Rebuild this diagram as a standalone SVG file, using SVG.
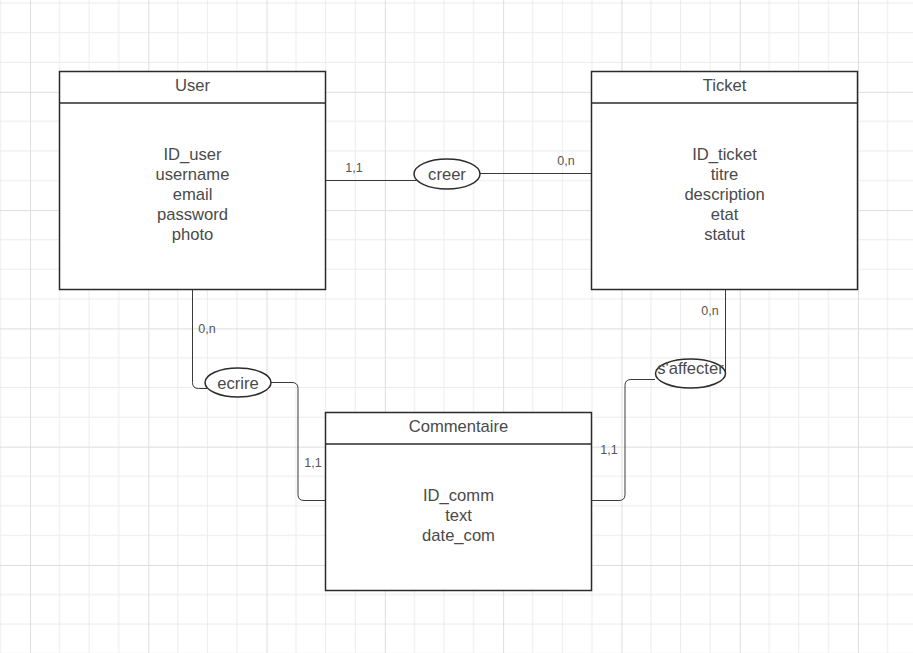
<svg xmlns="http://www.w3.org/2000/svg" width="913" height="653" viewBox="0 0 913 653">
<defs>
<pattern id="grid" patternUnits="userSpaceOnUse" x="30" y="91.84" width="118.28" height="118.28">
<path d="M29.57 0V118.28M59.14 0V118.28M88.71 0V118.28M0 29.57H118.28M0 59.14H118.28M0 88.71H118.28" stroke="#ececec" stroke-width="1" fill="none"/>
<path d="M0.5 0V118.28M0 0.5H118.28" stroke="#dedede" stroke-width="1" fill="none"/>
</pattern>
<style>
.box{fill:#fff;stroke:#2b2b2b;stroke-width:1.5}
.hdr{stroke:#2b2b2b;stroke-width:1.5;fill:none}
.t{font-family:"Liberation Sans",Arial,sans-serif;font-size:16.6px;fill:#4a4a4a;text-anchor:middle}
.lbl{font-family:"Liberation Sans",Arial,sans-serif;font-size:12.5px;fill:#555;text-anchor:middle}
.edge{fill:none;stroke:#3a3a3a;stroke-width:1}
.rel{fill:#fff;stroke:#2b2b2b;stroke-width:1.5}
</style>
</defs>
<rect width="913" height="653" fill="#fff"/>
<rect width="913" height="653" fill="url(#grid)"/>

<g id="connectors">
<path class="edge" d="M326 180.5H416.5"/>
<path class="edge" d="M480 173.5H591"/>
<path class="edge" d="M192.5 289V382.5Q192.5 388.5 198.5 388.5H207"/>
<path class="edge" d="M271 382.5H292Q298 382.5 298 388.5V494.5Q298 500.5 304 500.5H326"/>
<path class="edge" d="M725.5 289V373.5"/>
<path class="edge" d="M655 379.5H631Q625 379.5 625 385.5V494.5Q625 500.5 619 500.5H591.5"/>
<text class="lbl" x="354" y="172">1,1</text>
<text class="lbl" x="566" y="165">0,n</text>
<text class="lbl" x="207" y="333">0,n</text>
<text class="lbl" x="313" y="467">1,1</text>
<text class="lbl" x="710" y="315">0,n</text>
<text class="lbl" x="609" y="454">1,1</text>
</g>

<g id="user">
<rect class="box" x="59.5" y="71.5" width="266" height="218"/>
<path class="hdr" d="M59.5 103H325.5"/>
<text class="t" x="192.5" y="91">User</text>
<text class="t" x="192.5" y="160">ID_user</text>
<text class="t" x="192.5" y="180">username</text>
<text class="t" x="192.5" y="200">email</text>
<text class="t" x="192.5" y="220">password</text>
<text class="t" x="192.5" y="240">photo</text>
</g>

<g id="ticket">
<rect class="box" x="591.5" y="71.5" width="266" height="218"/>
<path class="hdr" d="M591.5 103H857.5"/>
<text class="t" x="724.5" y="91">Ticket</text>
<text class="t" x="724.5" y="160">ID_ticket</text>
<text class="t" x="724.5" y="180">titre</text>
<text class="t" x="724.5" y="200">description</text>
<text class="t" x="724.5" y="220">etat</text>
<text class="t" x="724.5" y="240">statut</text>
</g>

<g id="commentaire">
<rect class="box" x="325.5" y="412.5" width="266" height="178"/>
<path class="hdr" d="M325.5 444H591.5"/>
<text class="t" x="458.5" y="432">Commentaire</text>
<text class="t" x="458.5" y="501">ID_comm</text>
<text class="t" x="458.5" y="521">text</text>
<text class="t" x="458.5" y="541">date_com</text>
</g>

<g id="creer">
<ellipse class="rel" cx="447" cy="174" rx="33" ry="15"/>
<text class="t" x="447" y="180">creer</text>
</g>

<g id="ecrire">
<ellipse class="rel" cx="238" cy="382.5" rx="33" ry="14.5"/>
<text class="t" x="238" y="388.5">ecrire</text>
</g>

<g id="saffecter">
<ellipse class="rel" cx="690.5" cy="373.5" rx="35" ry="14.5"/>
<text class="t" x="690.5" y="374">s'affecter</text>
</g>
</svg>
